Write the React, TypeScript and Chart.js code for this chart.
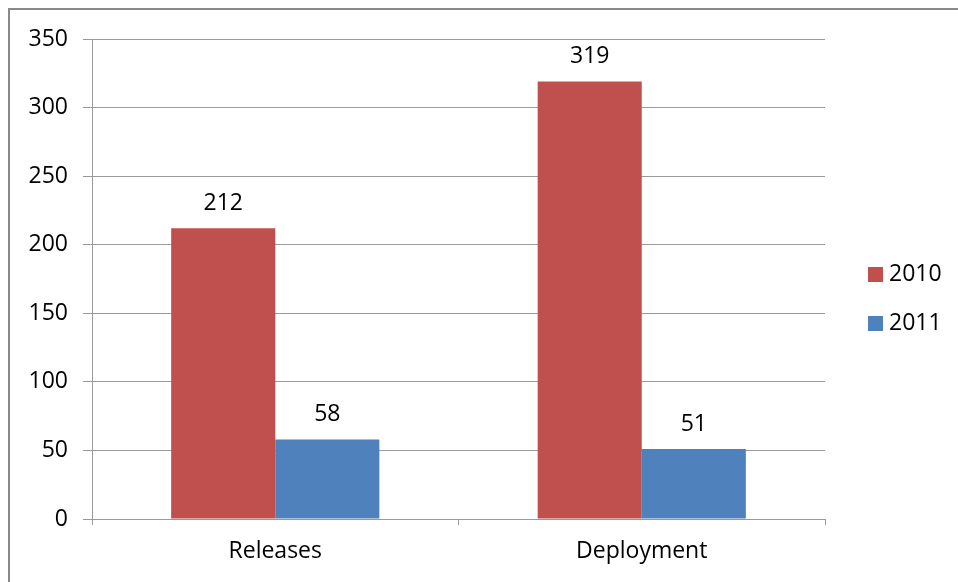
import React, { useEffect, useRef } from "react";
import { Chart, registerables } from "chart.js";

Chart.register(...registerables);

const categories = ["Releases", "Deployment"];
const series2010 = [212, 319];
const series2011 = [58, 51];
const seriesNames = ["2010", "2011"];
const colors = ["#C0504D", "#4F81BD"];
const yTicks = [0, 50, 100, 150, 200, 250, 300, 350];

const FONT = "'Open Sans', Lato, sans-serif";
const FS = 23;

const labelPlugin = {
  id: "valueLabels",
  afterDatasetsDraw(chart: any) {
    const ctx = chart.ctx;
    ctx.save();
    ctx.font = `${FS}px ${FONT}`;
    ctx.fillStyle = "#000";
    ctx.textAlign = "center";
    ctx.textBaseline = "middle";
    chart.data.datasets.forEach((ds: any, i: number) => {
      const meta = chart.getDatasetMeta(i);
      meta.data.forEach((bar: any, j: number) => {
        ctx.fillText(String(ds.data[j]), bar.x, bar.y - 25);
      });
    });
    // legend
    const items = chart.data.datasets;
    items.forEach((ds: any, i: number) => {
      const y = 274 + i * 49;
      ctx.fillStyle = ds.backgroundColor;
      ctx.fillRect(868, y - 7, 15, 15);
      ctx.fillStyle = "#000";
      ctx.textAlign = "left";
      ctx.fillText(ds.label, 889, y);
    });
    ctx.restore();
  },
};

export default function App() {
  const ref = useRef<HTMLCanvasElement>(null);
  useEffect(() => {
    if (!ref.current) return;
    const chart = new Chart(ref.current, {
      type: "bar",
      data: {
        labels: categories,
        datasets: [
          { label: seriesNames[0], data: series2010, backgroundColor: colors[0] },
          { label: seriesNames[1], data: series2011, backgroundColor: colors[1] },
        ],
      },
      options: {
        responsive: false,
        animation: false,
        devicePixelRatio: 1,
        layout: { padding: { left: 0, top: 39, right: 133, bottom: 0 } },
        datasets: { bar: { categoryPercentage: 0.568, barPercentage: 1 } } as any,
        plugins: {
          legend: { display: false },
          tooltip: { enabled: false },
        },
        scales: {
          x: {
            grid: {
              drawOnChartArea: false,
              tickLength: 6,
              color: "#9a9a9a",
              offset: true,
            },
            border: { color: "#9a9a9a" },
            ticks: {
              color: "#000",
              font: { family: FONT, size: FS },
              padding: 13,
            },
            afterFit(scale: any) {
              scale.height = 63;
            },
          },
          y: {
            min: 0,
            max: 350,
            afterBuildTicks(scale: any) {
              scale.ticks = yTicks.map((v) => ({ value: v }));
            },
            grid: { color: "#9a9a9a", tickLength: 9 },
            border: { color: "#9a9a9a" },
            ticks: {
              color: "#000",
              font: { family: FONT, size: FS },
              padding: 15,
            },
            afterFit(scale: any) {
              scale.width = 92;
            },
          },
        },
      },
      plugins: [labelPlugin],
    });
    return () => chart.destroy();
  }, []);
  return (
    <div
      style={{
        position: "absolute",
        left: 0,
        top: 0,
        width: 958,
        height: 582,
        overflow: "hidden",
        background: "#fff",
      }}
    >
      <div
        style={{
          position: "absolute",
          left: 8,
          top: 8,
          width: 1100,
          height: 700,
          border: "2px solid #8a8a8a",
        }}
      />
      <canvas
        ref={ref}
        width={958}
        height={582}
        style={{ position: "absolute", left: 0, top: 0 }}
      />
    </div>
  );
}
